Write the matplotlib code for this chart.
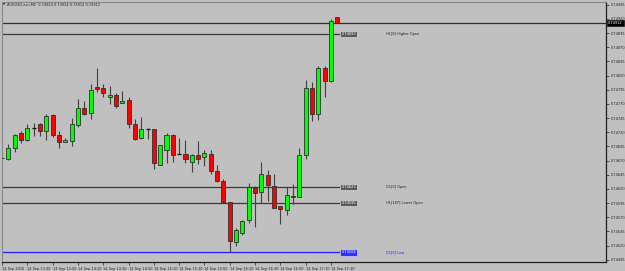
import matplotlib
matplotlib.use("Agg")
import matplotlib.pyplot as plt
import matplotlib.transforms as mtransforms

# ---- data (AUDUSD M5 candles) ----
opens = [0.74675, 0.74673, 0.74693, 0.74719, 0.74706, 0.74728, 0.74735, 0.74723, 0.74750, 0.74716,
         0.74703, 0.74705, 0.74732, 0.74762, 0.74754, 0.74799, 0.74798, 0.74783, 0.74785, 0.74772,
         0.74777, 0.74735, 0.74709, 0.74726, 0.74726, 0.74663, 0.74689, 0.74715, 0.74681, 0.74682,
         0.74668, 0.74679, 0.74676, 0.74682, 0.74652, 0.74634, 0.74597, 0.74527, 0.74542, 0.74565,
         0.74622, 0.74614, 0.74645, 0.74625, 0.74590, 0.74583, 0.74608, 0.74605, 0.74679, 0.74798,
         0.74753, 0.74833, 0.74810, 0.74924]
highs = [0.74686, 0.74700, 0.74717, 0.74722, 0.74735, 0.74737, 0.74737, 0.74752, 0.74752, 0.74722,
         0.74709, 0.74746, 0.74778, 0.74775, 0.74805, 0.74834, 0.74805, 0.74802, 0.74790, 0.74793,
         0.74782, 0.74743, 0.74747, 0.74728, 0.74726, 0.74697, 0.74718, 0.74717, 0.74709, 0.74706,
         0.74681, 0.74705, 0.74689, 0.74688, 0.74662, 0.74638, 0.74597, 0.74551, 0.74565, 0.74630,
         0.74625, 0.74668, 0.74653, 0.74646, 0.74590, 0.74623, 0.74628, 0.74692, 0.74812, 0.74809,
         0.74837, 0.74837, 0.74920, 0.74924]
lows = [0.74671, 0.74671, 0.74686, 0.74701, 0.74705, 0.74713, 0.74713, 0.74706, 0.74712, 0.74693,
        0.74702, 0.74695, 0.74730, 0.74750, 0.74743, 0.74791, 0.74782, 0.74769, 0.74762, 0.74772,
        0.74727, 0.74706, 0.74708, 0.74708, 0.74656, 0.74662, 0.74665, 0.74667, 0.74681, 0.74665,
        0.74649, 0.74664, 0.74660, 0.74646, 0.74633, 0.74597, 0.74508, 0.74520, 0.74539, 0.74560,
        0.74552, 0.74596, 0.74599, 0.74586, 0.74558, 0.74574, 0.74593, 0.74605, 0.74673, 0.74740,
        0.74742, 0.74782, 0.74809, 0.74912]
closes = [0.74674, 0.74693, 0.74716, 0.74706, 0.74728, 0.74728, 0.74723, 0.74749, 0.74715, 0.74702,
          0.74706, 0.74734, 0.74762, 0.74752, 0.74794, 0.74797, 0.74790, 0.74786, 0.74767, 0.74776,
          0.74734, 0.74708, 0.74725, 0.74726, 0.74666, 0.74697, 0.74716, 0.74679, 0.74681, 0.74673,
          0.74679, 0.74672, 0.74683, 0.74652, 0.74634, 0.74597, 0.74529, 0.74547, 0.74563, 0.74623,
          0.74613, 0.74646, 0.74627, 0.74586, 0.74584, 0.74609, 0.74605, 0.74679, 0.74798, 0.74753,
          0.74833, 0.74810, 0.74917, 0.74912]

time_tick_idx = [0, 4, 8, 12, 16, 20, 24, 28, 32, 36, 40, 44, 48, 52]
time_labels = ["14 Sep 2016", "14 Sep 13:30", "14 Sep 13:50", "14 Sep 14:10", "14 Sep 14:30",
               "14 Sep 14:50", "14 Sep 15:10", "14 Sep 15:30", "14 Sep 15:50", "14 Sep 16:10",
               "14 Sep 16:30", "14 Sep 16:50", "14 Sep 17:10", "14 Sep 17:30"]
price_ticks = [0.74945, 0.74920, 0.74895, 0.74870, 0.74845, 0.74820, 0.74795, 0.74770, 0.74745,
               0.74720, 0.74695, 0.74670, 0.74645, 0.74620, 0.74595, 0.74570, 0.74545, 0.74520, 0.74495]

level_names = ["H1[0] Higher Open", "D1[0] Open", "H1[187] Lower Open", "D1[0] Low"]
level_values = [0.74893, 0.74623, 0.74595, 0.74508]
level_colors = ["#3a3a3a", "#3a3a3a", "#3a3a3a", "#2020ff"]
level_box_fc = ["#5a5a5a", "#5a5a5a", "#5a5a5a", "#3030ff"]
level_text_colors = ["#202020", "#202020", "#202020", "#2020ff"]

title = "AUDUSD.ecn,M5  0.74924 0.74924 0.74912 0.74912"

FS = 2.5

# ---- figure ----
W, H = 625, 271
bg = "#c0c0c0"
fig = plt.figure(figsize=(W / 100, H / 100), dpi=100, facecolor=bg)
ax = fig.add_axes([2 / W, 1 - 262 / H, (606 - 2) / W, (262 - 2) / H])
ax.set_facecolor(bg)

n = len(opens)
xs = list(range(n))
xleft, xright = 0.047, 95.46
ax.set_xlim(xleft, xright)
ax.set_ylim(0.744911, 0.749498)

body_w = 0.64
for i in xs:
    o, h, l, c = opens[i], highs[i], lows[i], closes[i]
    ax.vlines(i, l, h, color="#404040", lw=0.8, zorder=2)
    if abs(c - o) < 0.0000051:
        ax.hlines(o, i - body_w / 2, i + body_w / 2, color="#101010", lw=0.9, zorder=3)
    else:
        col = "#00ff00" if c > o else "#ff0000"
        ax.bar(i, abs(c - o), bottom=min(o, c), width=body_w, color=col,
               edgecolor="#303030", linewidth=0.6, zorder=3)

# level lines
fig_x = mtransforms.blended_transform_factory(fig.transFigure, ax.transData)
box_x_data = (340 - 1.7) / 6.33
for name, val, lc, bfc, tc in zip(level_names, level_values, level_colors, level_box_fc, level_text_colors):
    ax.hlines(val, xleft - 1, box_x_data, color=lc, lw=0.9, zorder=1)
    ax.text(341.5 / W, val, f"{val:.5f}", transform=fig_x, fontsize=FS, color="white",
            va="center", ha="left",
            bbox=dict(boxstyle="square,pad=0.35", fc=bfc, ec="#e8e8e8", lw=0.4), zorder=4)
    ax.text(386 / W, val, name, transform=fig_x, fontsize=FS, color=tc, va="center", ha="left")

# current price line and marker
cur = closes[-1]
ax.axhline(cur, color="#303030", lw=0.9, zorder=1)
ax.text(608 / W, cur, f"{cur:.5f}", transform=fig_x, fontsize=FS, color="white",
        va="center", ha="left", clip_on=False,
        bbox=dict(boxstyle="square,pad=0.3", fc="black", ec="black", lw=0.4), zorder=5)

# axes styling
for s in ["left", "top"]:
    ax.spines[s].set_color("#888888")
    ax.spines[s].set_linewidth(0.8)
for s in ["right", "bottom"]:
    ax.spines[s].set_color("#202020")
    ax.spines[s].set_linewidth(0.9)

ax.yaxis.tick_right()
ax.set_yticks(price_ticks)
ax.set_yticklabels([f"{p:.5f}" for p in price_ticks])
ax.tick_params(axis="y", direction="out", length=2, width=0.5, pad=1.5, labelsize=FS,
               colors="#202020")
ax.set_xticks(time_tick_idx)
ax.set_xticklabels(time_labels, ha="left")
ax.tick_params(axis="x", direction="out", length=2, width=0.5, pad=1.5, labelsize=FS,
               colors="#202020")

# title
fig.text(2.5 / W, 1 - 4.5 / H, "\u25bc", fontsize=2.0, color="#202020", va="center", ha="left")
fig.text(7 / W, 1 - 4.5 / H, title, fontsize=FS, color="#202020", va="center", ha="left")

fig.savefig("out.png", dpi=100, facecolor=bg)
